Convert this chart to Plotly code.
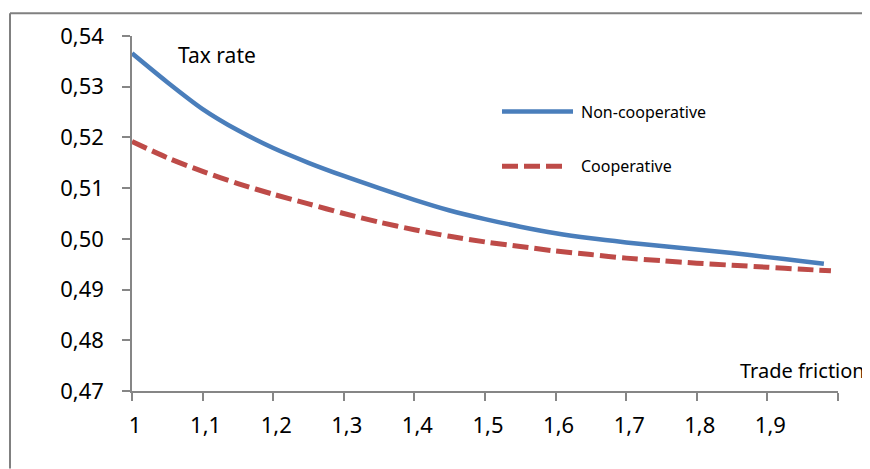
import plotly.graph_objects as go

# Trade friction values (x) and tax rates
x_noncoop = [1.00, 1.05, 1.10, 1.15, 1.20, 1.25, 1.30, 1.35, 1.40, 1.45, 1.50,
             1.55, 1.60, 1.65, 1.70, 1.75, 1.80, 1.85, 1.90, 1.95, 1.98]
y_noncoop = [0.5366, 0.5309, 0.5256, 0.5214, 0.5179, 0.5150, 0.5124, 0.5100, 0.5077, 0.5056, 0.5039,
             0.5024, 0.5011, 0.5001, 0.4993, 0.4986, 0.4979, 0.4972, 0.4964, 0.4956, 0.4951]

x_coop = [1.00, 1.05, 1.10, 1.15, 1.20, 1.25, 1.30, 1.35, 1.40, 1.45, 1.50,
          1.55, 1.60, 1.65, 1.70, 1.75, 1.80, 1.85, 1.90, 1.95, 1.99]
y_coop = [0.5192, 0.5160, 0.5133, 0.5109, 0.5088, 0.5069, 0.5050, 0.5033, 0.5018, 0.5005, 0.4994,
          0.4985, 0.4976, 0.4969, 0.4962, 0.4957, 0.4952, 0.4948, 0.4944, 0.4940, 0.4937]

x_tickvals = [1.0, 1.1, 1.2, 1.3, 1.4, 1.5, 1.6, 1.7, 1.8, 1.9, 2.0]
x_ticktext = ["1", "1,1", "1,2", "1,3", "1,4", "1,5", "1,6", "1,7", "1,8", "1,9", ""]

series_names = ["Non-cooperative", "Cooperative"]

BLUE = "#4a7ebb"
RED = "#be4b48"
AXIS = "#868686"
FONT = "Noto Sans"

# page body has an 8px default margin; compensate so the plot lands where intended
OFF = 8

fig = go.Figure()
fig.add_trace(go.Scatter(x=x_noncoop, y=y_noncoop, mode="lines", name=series_names[0],
                         line=dict(color=BLUE, width=4.5, shape="spline", smoothing=0.8)))
fig.add_trace(go.Scatter(x=x_coop, y=y_coop, mode="lines", name=series_names[1],
                         line=dict(color=RED, width=5, dash="16px,6px", shape="spline", smoothing=0.8)))

fig.update_layout(
    width=870 - OFF, height=469 - OFF,
    margin=dict(l=132 - OFF, r=32, t=34 - OFF, b=78),
    paper_bgcolor="white", plot_bgcolor="white",
    showlegend=False,
    separators=", ",
    font=dict(family=FONT, color="black", size=21),
)

fig.update_xaxes(range=[1, 2], tickvals=x_tickvals, ticktext=x_ticktext,
                 showgrid=False, zeroline=False, showline=True, linecolor=AXIS, linewidth=1.5,
                 ticks="outside", ticklen=8, tickcolor=AXIS, tickwidth=1.5,
                 tickfont=dict(family=FONT, size=22, color="black"),
                 ticklabelstandoff=6, ticklabelshift=3)
fig.update_yaxes(range=[0.47, 0.54], dtick=0.01, tick0=0.47, tickformat=".2f",
                 showgrid=False, zeroline=False, showline=True, linecolor=AXIS, linewidth=1.5,
                 ticks="outside", ticklen=8, tickcolor=AXIS, tickwidth=1.5,
                 tickfont=dict(family=FONT, size=22, color="black"),
                 ticklabelstandoff=14)

W, H = 706.0, 357.0
def px(xp):
    return (xp - 132) / W
def py(yp):
    return (391 - yp) / H

# Outer frame (left and top edges visible)
fig.add_shape(type="line", xref="paper", yref="paper", x0=px(10), x1=px(10), y0=py(469), y1=py(11),
              line=dict(color="#808080", width=2))
fig.add_shape(type="line", xref="paper", yref="paper", x0=px(10), x1=px(870), y0=py(11), y1=py(11),
              line=dict(color="#808080", width=2))

# Legend samples
fig.add_shape(type="line", xref="paper", yref="paper", x0=px(502), x1=px(573), y0=py(110), y1=py(110),
              line=dict(color=BLUE, width=4.5))
fig.add_shape(type="line", xref="paper", yref="paper", x0=px(502), x1=px(564), y0=py(165), y1=py(165),
              line=dict(color=RED, width=5, dash="16px,6px"))
fig.add_annotation(xref="paper", yref="paper", x=px(579), y=py(110), text=series_names[0],
                   showarrow=False, xanchor="left", yanchor="middle", font=dict(size=16))
fig.add_annotation(xref="paper", yref="paper", x=px(579), y=py(165), text=series_names[1],
                   showarrow=False, xanchor="left", yanchor="middle", font=dict(size=16))

# Axis titles as in-chart text
fig.add_annotation(xref="paper", yref="paper", x=px(217), y=py(53), text="Tax rate",
                   showarrow=False, xanchor="center", yanchor="middle", font=dict(size=21))
fig.add_annotation(xref="paper", yref="paper", x=px(738), y=py(370), text="Trade friction",
                   showarrow=False, xanchor="left", yanchor="middle", font=dict(size=20))

fig.write_html("out.html")
